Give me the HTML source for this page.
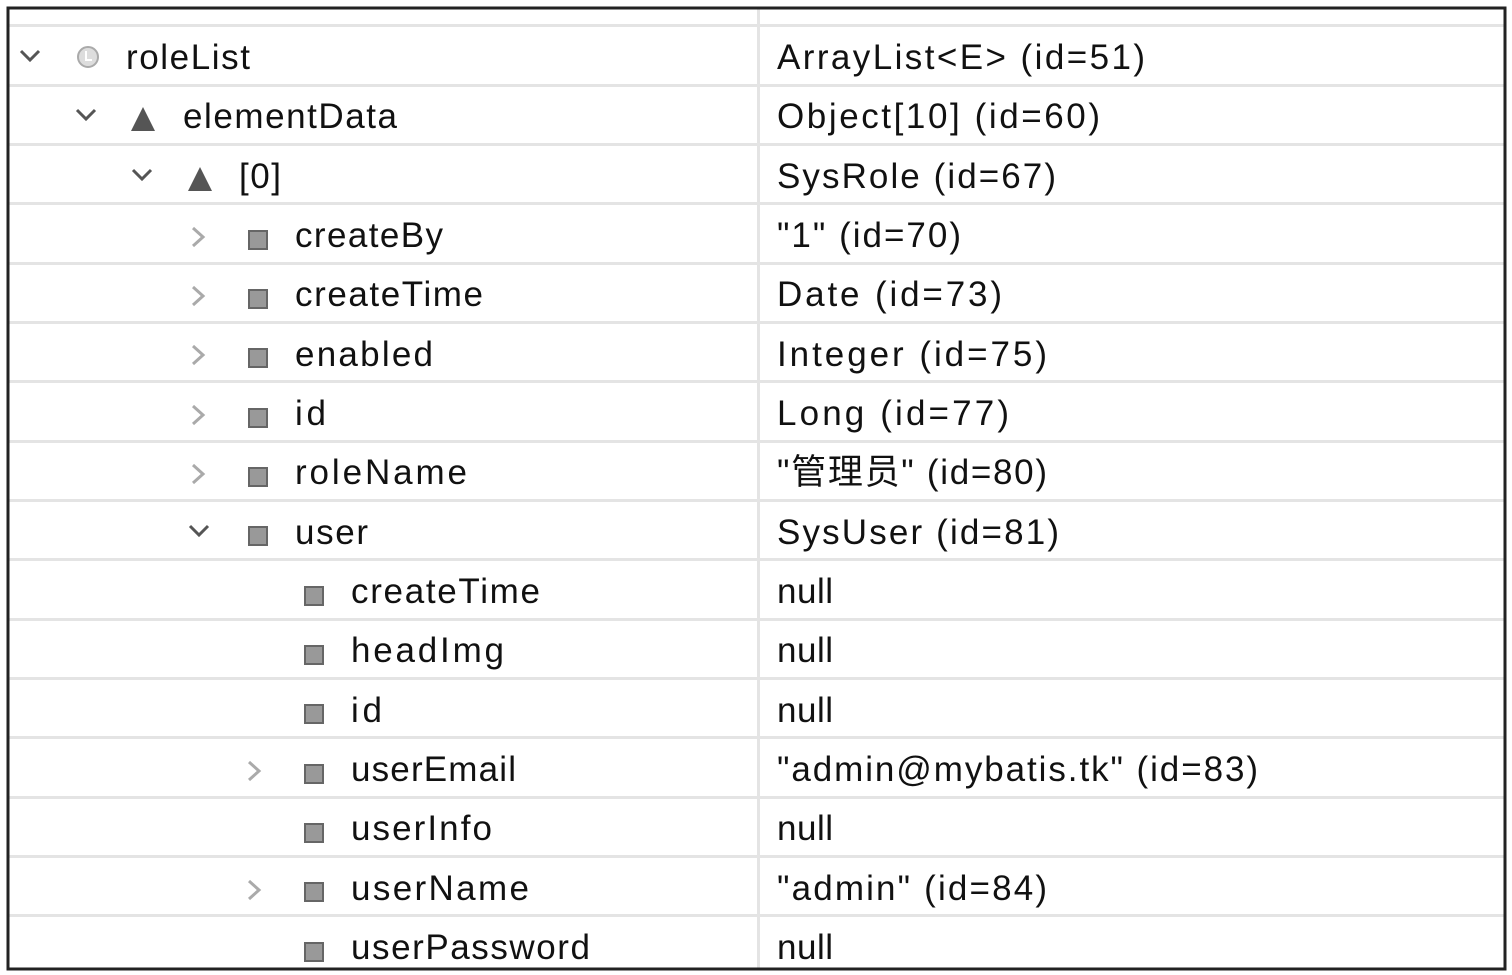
<!DOCTYPE html>
<html><head><meta charset="utf-8"><style>
html,body{margin:0;padding:0;background:#fff;}
svg{display:block;}
text{font-family:"Liberation Sans","Noto Sans CJK SC",sans-serif;font-size:35px;fill:#111;}
</style></head><body>
<svg width="1512" height="975" viewBox="0 0 1512 975" xmlns="http://www.w3.org/2000/svg">
<rect x="0" y="0" width="1512" height="975" fill="#fff"/>
<!-- row separators -->
<g fill="#e4e4e4">
<rect x="8" y="24" width="1498" height="3"/>
<rect x="8" y="84" width="1498" height="3"/>
<rect x="8" y="143" width="1498" height="3"/>
<rect x="8" y="202" width="1498" height="3"/>
<rect x="8" y="262" width="1498" height="3"/>
<rect x="8" y="321" width="1498" height="3"/>
<rect x="8" y="380" width="1498" height="3"/>
<rect x="8" y="440" width="1498" height="3"/>
<rect x="8" y="499" width="1498" height="3"/>
<rect x="8" y="558" width="1498" height="3"/>
<rect x="8" y="618" width="1498" height="3"/>
<rect x="8" y="677" width="1498" height="3"/>
<rect x="8" y="736" width="1498" height="3"/>
<rect x="8" y="796" width="1498" height="3"/>
<rect x="8" y="855" width="1498" height="3"/>
<rect x="8" y="914" width="1498" height="3"/>
<rect x="757" y="8" width="3" height="962"/>
</g>
<!-- border -->
<rect x="8" y="8" width="1497" height="961" fill="none" stroke="#222" stroke-width="3"/>
<!-- expanded chevrons -->
<g fill="none" stroke="#555" stroke-width="3">
<polyline points="21,51 30,60 39,51"/>
<polyline points="77,110 86,119 95,110"/>
<polyline points="133,170 142,179 151,170"/>
<polyline points="190,526 199,535 208,526"/>
</g>
<g fill="none" stroke="#aaa" stroke-width="3">
<polyline points="193,228 203,237 193,246"/>
<polyline points="193,287 203,296 193,305"/>
<polyline points="193,346 203,355 193,364"/>
<polyline points="193,406 203,415 193,424"/>
<polyline points="193,465 203,474 193,483"/>
<polyline points="249,762 259,771 249,780"/>
<polyline points="249,881 259,890 249,899"/>
</g>
<!-- icons -->
<circle cx="88" cy="57" r="10" fill="#ddd" stroke="#aaa" stroke-width="2"/>
<polyline points="86,51 86,60 92,60" fill="none" stroke="#fff" stroke-width="2"/>
<polygon points="143,107 131,131 155,131" fill="#555"/>
<polygon points="200,167 188,191 212,191" fill="#555"/>
<g fill="#999" stroke="#666" stroke-width="2">
<rect x="249" y="231" width="18" height="18"/>
<rect x="249" y="290" width="18" height="18"/>
<rect x="249" y="349" width="18" height="18"/>
<rect x="249" y="409" width="18" height="18"/>
<rect x="249" y="468" width="18" height="18"/>
<rect x="249" y="527" width="18" height="18"/>
<rect x="305" y="587" width="18" height="18"/>
<rect x="305" y="646" width="18" height="18"/>
<rect x="305" y="705" width="18" height="18"/>
<rect x="305" y="765" width="18" height="18"/>
<rect x="305" y="824" width="18" height="18"/>
<rect x="305" y="883" width="18" height="18"/>
<rect x="305" y="943" width="18" height="18"/>
</g>
<!-- names -->
<text x="126" y="69" textLength="124">roleList</text>
<text x="183" y="128" textLength="214">elementData</text>
<text x="239" y="188" textLength="42">[0]</text>
<text x="295" y="247" textLength="148">createBy</text>
<text x="295" y="306" textLength="188">createTime</text>
<text x="295" y="366" textLength="138">enabled</text>
<text x="295" y="425" textLength="31">id</text>
<text x="295" y="484" textLength="172">roleName</text>
<text x="295" y="544" textLength="73">user</text>
<text x="351" y="603" textLength="189">createTime</text>
<text x="351" y="662" textLength="153">headImg</text>
<text x="351" y="722" textLength="31">id</text>
<text x="351" y="781" textLength="165">userEmail</text>
<text x="351" y="840" textLength="141">userInfo</text>
<text x="351" y="900" textLength="178">userName</text>
<text x="351" y="959" textLength="239">userPassword</text>
<!-- values -->
<text x="777" y="69" textLength="368">ArrayList&lt;E&gt;  (id=51)</text>
<text x="777" y="128" textLength="323">Object[10]  (id=60)</text>
<text x="777" y="188" textLength="279">SysRole  (id=67)</text>
<text x="777" y="247" textLength="184">"1" (id=70)</text>
<text x="777" y="306" textLength="225">Date  (id=73)</text>
<text x="777" y="366" textLength="270">Integer  (id=75)</text>
<text x="777" y="425" textLength="232">Long  (id=77)</text>
<text x="777" y="484" textLength="270">"管理员" (id=80)</text>
<text x="777" y="544" textLength="282">SysUser  (id=81)</text>
<text x="777" y="603" textLength="56">null</text>
<text x="777" y="662" textLength="56">null</text>
<text x="777" y="722" textLength="56">null</text>
<text x="777" y="781" textLength="481">"admin@mybatis.tk" (id=83)</text>
<text x="777" y="840" textLength="56">null</text>
<text x="777" y="900" textLength="270">"admin" (id=84)</text>
<text x="777" y="959" textLength="56">null</text>
</svg>
</body></html>
